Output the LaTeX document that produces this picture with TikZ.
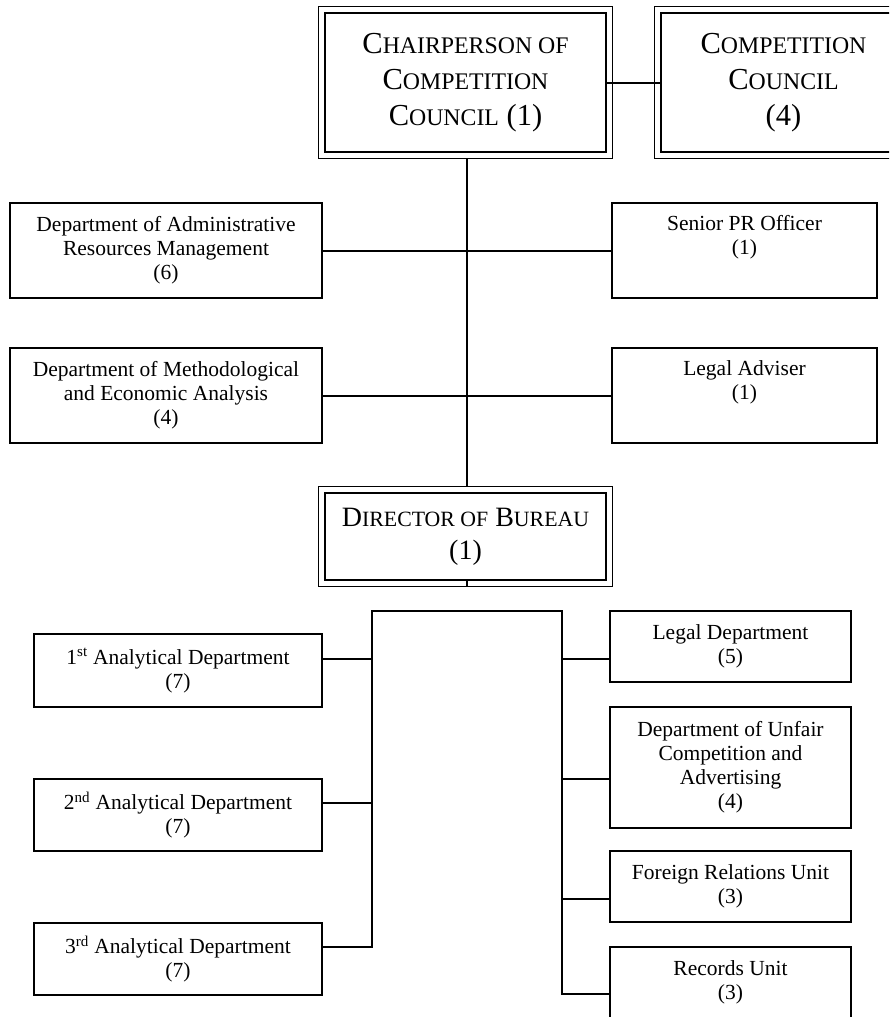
\documentclass[tikz,border=0pt]{standalone}
\usepackage{fontspec}
\setmainfont{Liberation Serif}
\usetikzlibrary{calc}
\newcommand{\bigfs}{\fontsize{30.5}{36}\selectfont}
\newcommand{\scfs}{\fontsize{23.8}{36}\selectfont}
\newcommand{\dirfs}{\fontsize{28}{33}\selectfont}
\newcommand{\dirscfs}{\fontsize{21.8}{33}\selectfont}
\newcommand{\smallfs}{\fontsize{21.5}{24}\selectfont}
\newcommand{\SCw}[2]{{\bigfs #1}{\scfs #2}}
\newcommand{\SCd}[2]{{\dirfs #1}{\dirscfs #2}}
\begin{document}
\begin{tikzpicture}[x=1pt,y=-1pt,
  box/.style={draw, line width=1.8pt, align=center, inner sep=0pt, font=\smallfs},
  bigbox/.style={draw, line width=2.8pt, align=center, inner sep=0pt, font=\bigfs},
  outerline/.style={line width=1.2pt},
  conn/.style={line width=2pt}]
\useasboundingbox (0,0) rectangle (889,1017);
\fill[white] (0,0) rectangle (889,1017);
\clip (0,0) rectangle (889,1017);

% top level
\node[bigbox, minimum width=281pt, minimum height=139pt] (chair) at (465.5,82.5)
  {\SCw{C}{HAIRPERSON OF}\\\SCw{C}{OMPETITION}\\\SCw{C}{OUNCIL} (1)};
\node[bigbox, minimum width=245pt, minimum height=139pt] (council) at (783.5,82.5)
  {\SCw{C}{OMPETITION}\\\SCw{C}{OUNCIL}\\(4)};
\foreach \n in {chair,council}{
  \draw[outerline] ([shift={(-5,-5)}]\n.north west) rectangle ([shift={(5,5)}]\n.south east);
}

% staff boxes
\node[box, minimum width=312pt, minimum height=95pt] (adm) at (166,250.5)
  {Department of Administrative\\Resources Management\\(6)};
\node[box, minimum width=265pt, minimum height=95pt] (spr) at (744.5,250.5)
  {Senior PR Officer\\(1)\\\strut};
\node[box, minimum width=312pt, minimum height=95pt] (met) at (166,395.5)
  {Department of Methodological\\and Economic Analysis\\(4)};
\node[box, minimum width=265pt, minimum height=95pt] (lad) at (744.5,395.5)
  {Legal Adviser\\(1)\\\strut};

% director
\node[bigbox, font=\dirfs, minimum width=281pt, minimum height=87pt] (dir) at (465.5,536.5)
  {\SCd{D}{IRECTOR OF} \SCd{B}{UREAU}\\(1)};
\draw[outerline] ([shift={(-5,-5)}]dir.north west) rectangle ([shift={(5,5)}]dir.south east);

% lower boxes
\node[box, minimum width=288pt, minimum height=73pt] (a1) at (178,670.5)
  {1\textsuperscript{st} Analytical Department\\(7)};
\node[box, minimum width=288pt, minimum height=72pt] (a2) at (178,815)
  {2\textsuperscript{nd} Analytical Department\\(7)};
\node[box, minimum width=288pt, minimum height=72pt] (a3) at (178,959)
  {3\textsuperscript{rd} Analytical Department\\(7)};
\node[box, minimum width=241pt, minimum height=71pt] (ld) at (730.5,646.5)
  {Legal Department\\(5)};
\node[box, minimum width=241pt, minimum height=121pt] (uf) at (730.5,767.5)
  {Department of Unfair\\Competition and\\Advertising\\(4)};
\node[box, minimum width=241pt, minimum height=71pt] (fr) at (730.5,886.5)
  {Foreign Relations Unit\\(3)};
\node[box, minimum width=241pt, minimum height=71pt] (rec) at (730.5,982.5)
  {Records Unit\\(3)};

% connectors
\draw[conn] (chair.east) -- (council.west);
\draw[conn] ($(chair.south)+(1.5,5)$) -- ($(dir.north)+(1.5,-5)$);
\draw[conn] (adm.east) -- (spr.west);
\draw[conn] (met.east) -- (lad.west);

\coordinate (bl) at (372,611);
\coordinate (br) at (562,611);
\coordinate (a1c) at ([yshift=11.5pt]a1.east);
\coordinate (a2c) at ([yshift=12pt]a2.east);
\coordinate (a3c) at ([yshift=12pt]a3.east);
\coordinate (ldc) at ([yshift=-12.5pt]ld.west);
\coordinate (ufc) at ([yshift=-11.5pt]uf.west);
\coordinate (frc) at ([yshift=-12.5pt]fr.west);
\coordinate (rcc) at ([yshift=-11.5pt]rec.west);

\draw[conn] ($(dir.south)+(1.5,5)$) -- ($(dir.south)+(1.5,0)$ |- bl);
\draw[conn] (a3c) -| (bl) -- (br) |- (rcc);
\draw[conn] (a1c) -- (a1c -| bl);
\draw[conn] (a2c) -- (a2c -| bl);
\draw[conn] (ldc) -- (ldc -| br);
\draw[conn] (ufc) -- (ufc -| br);
\draw[conn] (frc) -- (frc -| br);
\end{tikzpicture}
\end{document}
